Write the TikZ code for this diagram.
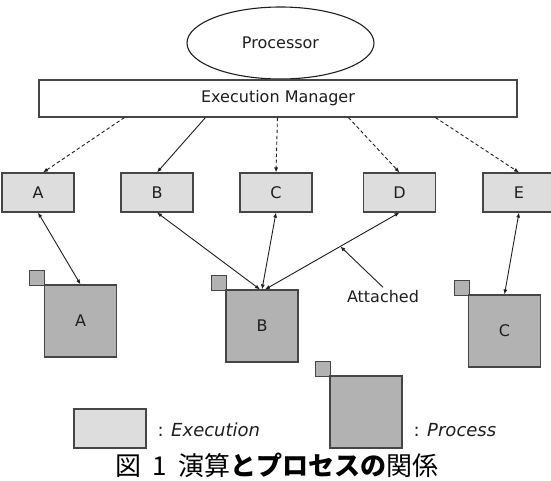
\documentclass[tikz,border=0pt]{standalone}
\usepackage{fontspec}
\setmainfont{DejaVu Sans}
\newfontfamily\jpfont{Noto Sans CJK JP}
\usetikzlibrary{arrows.meta, positioning, shapes.geometric}
\definecolor{execgray}{RGB}{221,221,221}
\definecolor{procgray}{RGB}{178,178,178}
\definecolor{edgegray}{RGB}{70,70,70}
\definecolor{inkgray}{RGB}{30,30,30}

\begin{document}
\begin{tikzpicture}[x=1pt, y=-1pt,
  every node/.style={text=inkgray},
  execbox/.style={draw=edgegray, fill=execgray, line width=1.1pt, minimum width=72pt, minimum height=39pt, inner sep=0pt, font=\fontsize{16}{16}\selectfont},
  procbox/.style={draw=edgegray, fill=procgray, line width=1.1pt, minimum width=72pt, minimum height=72pt, inner sep=0pt, font=\fontsize{16}{16}\selectfont},
  ctxbox/.style={draw=edgegray, fill=procgray, line width=1.1pt, minimum size=15pt, inner sep=0pt},
  link/.style={draw=inkgray, line width=0.9pt, -{Latex[length=5pt,width=4pt]}},
  weak/.style={link, dashed, dash pattern=on 3.5pt off 2.5pt},
  both/.style={link, {Latex[length=5pt,width=4pt]}-{Latex[length=5pt,width=4pt]}},
  legtext/.style={font=\fontsize{18}{18}\selectfont, anchor=west}]
  \useasboundingbox (0,0) rectangle (551,480);
  % processor and manager
  \node[draw=inkgray, line width=1.1pt, ellipse, minimum width=187pt, minimum height=72pt, inner sep=0pt, font=\fontsize{16}{16}\selectfont] (cpu) at (280.5,43) {Processor};
  \node[draw=edgegray, fill=white, line width=1.1pt, minimum width=478pt, minimum height=37pt, inner sep=0pt, font=\fontsize{16}{16}\selectfont] (em) at (278,98.5) {Execution Manager};
  % executions
  \node[execbox] (execA) at (38,192.5) {A};
  \node[execbox] (execB) at (157,192.5) {B};
  \node[execbox] (execC) at (276,192.5) {C};
  \node[execbox] (execD) at (399.5,192.5) {D};
  \node[execbox] (execE) at (519,192.5) {E};
  \coordinate (emA) at ([xshift=86pt]em.south west);
  \coordinate (emB) at ([xshift=167pt]em.south west);
  \coordinate (emC) at ([xshift=239pt]em.south west);
  \coordinate (emD) at ([xshift=310pt]em.south west);
  \coordinate (emE) at ([xshift=397pt]em.south west);
  \draw[weak] (emA) -- ([xshift=5pt]execA.north);
  \draw[link] (emB) -- (execB.north);
  \draw[weak] (emC) -- (execC.north);
  \draw[weak] (emD) -- (execD.north);
  \draw[weak] (emE) -- (execE.north);
  % processes
  \node[ctxbox, anchor=south east] (ctxA) at (45,286) {};
  \node[procbox] (procA) at (80.5,321) {A};
  \node[ctxbox, anchor=south east] (ctxB) at (227,291) {};
  \node[procbox] (procB) at (262,326) {B};
  \node[ctxbox, anchor=south east] (ctxC) at (470,296) {};
  \node[procbox] (procC) at (504.5,331) {C};
  \draw[both] (execA.south) -- (procA.north);
  \draw[both] (execB.south) -- ([xshift=-2pt]procB.north);
  \draw[both] (execC.south) -- (procB.north);
  \draw[both] (execD.south) -- coordinate[pos=0.44] (hit) ([xshift=3pt]procB.north);
  \draw[both] (execE.south) -- (procC.north);
  \node[font=\fontsize{16}{16}\selectfont] (attach) at (383,297) {Attached};
  \draw[link] (attach.north) -- (hit);
  % legend
  \node[execbox] (legExec) at (110,428.5) {};
  \node[legtext] (legExecTxt) at (154,430) {: \textit{Execution}};
  \node[ctxbox, anchor=south east] (legCtx) at (331,377) {};
  \node[procbox] (legProc) at (366,412) {};
  \node[legtext] (legProcTxt) at (410,430) {: \textit{Process}};
  % caption
  \node[font=\jpfont\fontsize{26}{26}\selectfont, text=black] (caption) at (277,465) {図\hspace{0.45em}1\hspace{0.45em}演算{\bfseries とプロセスの}関係};
\end{tikzpicture}
\end{document}
